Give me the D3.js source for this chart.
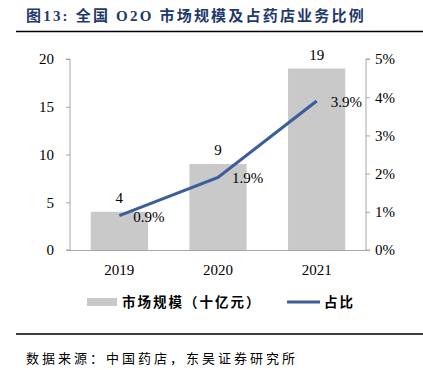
<!DOCTYPE html>
<html>
<head>
<meta charset="utf-8">
<script src="https://cdn.jsdelivr.net/npm/d3@7"></script>
<style>
  body { margin: 0; background: #fff; }
  svg text { font-family: "Liberation Serif", "Times New Roman", serif; }
  .cn { font-family: "Liberation Serif", "Noto Sans CJK SC", serif; }
</style>
</head>
<body>
<svg id="chart" width="423" height="370"></svg>
<script>
"use strict";

// data
const years = ['2019', '2020', '2021'];
const marketSize = [4, 9, 19];        // 十亿元
const shareRatio = [0.9, 1.9, 3.9];   // %
const leftTicks = [0, 5, 10, 15, 20];
const rightTicks = [0, 1, 2, 3, 4, 5];

(function () {
  let svg = d3.select('#chart');
  let left = 70, right = 366, top = 59, bottom = 250;

  let x = d3.scaleBand().domain(years).range([left, right]).paddingInner(0.42).paddingOuter(0.21);
  let yL = d3.scaleLinear().domain([0, 20]).range([bottom, top]);
  let yR = d3.scaleLinear().domain([0, 5]).range([bottom, top]);

  // title
  svg.append('text')
    .attr('class', 'cn')
    .attr('x', 26).attr('y', 21)
    .style('font-size', '15px').style('font-weight', 'bold')
    .style('letter-spacing', '2.2px')
    .style('fill', '#1f3a6b')
    .text('图13:  全国 O2O 市场规模及占药店业务比例');

  svg.append('line')
    .attr('x1', 16).attr('x2', 423).attr('y1', 31.5).attr('y2', 31.5)
    .style('stroke', '#000').style('stroke-width', 1.5);

  // bars
  svg.selectAll('.bar').data(marketSize).enter().append('rect')
    .attr('class', 'bar')
    .attr('x', (d, i) => x(years[i]))
    .attr('width', x.bandwidth())
    .attr('y', d => yL(d))
    .attr('height', d => bottom - yL(d))
    .style('fill', '#c9c9c9');

  svg.selectAll('.bar-label').data(marketSize).enter().append('text')
    .attr('x', (d, i) => x(years[i]) + x.bandwidth() / 2)
    .attr('y', d => yL(d) - 9)
    .attr('text-anchor', 'middle')
    .style('font-size', '15px')
    .text(d => d);

  // axes
  let axisL = d3.axisLeft(yL).tickValues(leftTicks).tickSize(4).tickPadding(12);
  let gL = svg.append('g').attr('transform', 'translate(' + left + ',0)').call(axisL);

  let axisR = d3.axisRight(yR).tickValues(rightTicks).tickSize(4).tickPadding(5)
    .tickFormat(d => d + '%');
  let gR = svg.append('g').attr('transform', 'translate(' + right + ',0)').call(axisR);

  [gL, gR].forEach(function (g) {
    g.select('.domain').style('stroke', '#a6a6a6');
    g.selectAll('.tick line').style('stroke', '#a6a6a6');
    g.selectAll('.tick text')
      .style('font-family', '"Liberation Serif", serif')
      .style('font-size', '15px').style('fill', '#000');
  });
  gL.select('.domain').attr('d', 'M-4,' + top + 'H0V' + bottom + 'H-4');
  gR.select('.domain').attr('d', 'M4,' + top + 'H0V' + bottom + 'H4');

  // baseline
  svg.append('line')
    .attr('x1', left - 4).attr('x2', right).attr('y1', bottom + 0.5).attr('y2', bottom + 0.5)
    .style('stroke', '#a6a6a6');

  // x labels
  svg.selectAll('.xlab').data(years).enter().append('text')
    .attr('x', d => x(d) + x.bandwidth() / 2)
    .attr('y', 275)
    .attr('text-anchor', 'middle')
    .style('font-size', '15px')
    .text(d => d);

  // line
  let line = d3.line()
    .x((d, i) => x(years[i]) + x.bandwidth() / 2)
    .y(d => yR(d));

  svg.append('path').datum(shareRatio)
    .attr('d', line)
    .style('fill', 'none')
    .style('stroke', '#3a5f9a')
    .style('stroke-width', 3.2);

  svg.selectAll('.pct').data(shareRatio).enter().append('text')
    .attr('x', (d, i) => x(years[i]) + x.bandwidth() / 2 + 14)
    .attr('y', d => yR(d) + 6)
    .style('font-size', '15px')
    .text(d => d.toFixed(1) + '%');

  // legend
  svg.append('rect')
    .attr('x', 87).attr('y', 298).attr('width', 30).attr('height', 8)
    .style('fill', '#c9c9c9');
  svg.append('text').attr('class', 'cn')
    .attr('x', 122).attr('y', 307)
    .style('font-size', '13.5px').style('font-weight', 'bold')
    .style('letter-spacing', '2px')
    .text('市场规模（十亿元）');

  svg.append('line')
    .attr('x1', 287).attr('x2', 320).attr('y1', 302).attr('y2', 302)
    .style('stroke', '#3a5f9a').style('stroke-width', 3.2);
  svg.append('text').attr('class', 'cn')
    .attr('x', 324).attr('y', 307)
    .style('font-size', '13.5px').style('font-weight', 'bold')
    .style('letter-spacing', '2px')
    .text('占比');

  // footer
  svg.append('line')
    .attr('x1', 16).attr('x2', 423).attr('y1', 334).attr('y2', 334)
    .style('stroke', '#000').style('stroke-width', 1.5);
  svg.append('text').attr('class', 'cn')
    .attr('x', 26).attr('y', 363)
    .style('font-size', '13px')
    .style('letter-spacing', '3px')
    .text('数据来源：中国药店，东吴证券研究所');
})();
</script>
</body>
</html>
